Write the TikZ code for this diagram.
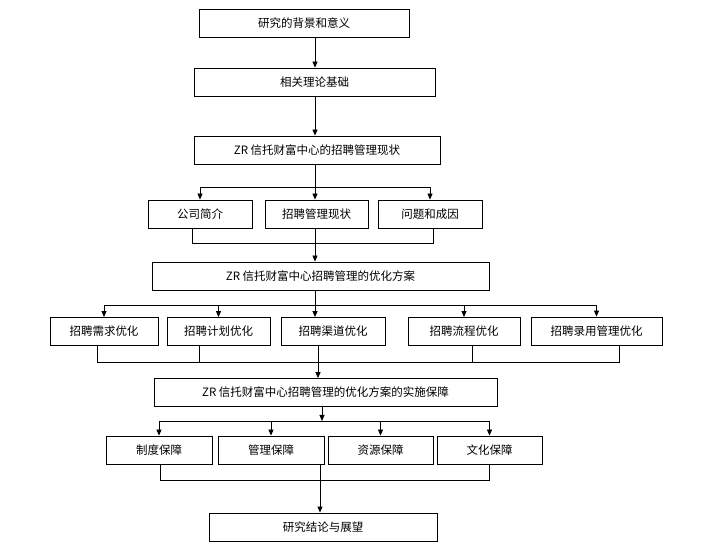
\documentclass[tikz,border=0pt]{standalone}
\usepackage{fontspec}
\usetikzlibrary{arrows.meta}
\newfontfamily\cjk{Noto Sans CJK SC}
\begin{document}
\begin{tikzpicture}[x=1pt,y=-1pt,
 bx/.style={draw,thick,minimum height=28pt,inner sep=0pt,font=\cjk\fontsize{11.5}{13}\selectfont},
 ar/.style={thick,-{Triangle[length=6pt,width=5pt]}},
 ln/.style={thick}]
\useasboundingbox (0,0) rectangle (702,545);
\node[bx,minimum width=210pt] (a) at (304,23) {研究的背景和意义};
\node[bx,minimum width=241pt] (b) at (314.5,82) {相关理论基础};
\node[bx,minimum width=246pt] (c) at (317,150) {ZR 信托财富中心的招聘管理现状};
\node[bx,minimum width=104pt] (c1) at (200,214) {公司简介};
\node[bx,minimum width=103pt] (c2) at (316.5,214) {招聘管理现状};
\node[bx,minimum width=104pt] (c3) at (430,214) {问题和成因};
\node[bx,minimum width=337pt] (d) at (320.5,276) {ZR 信托财富中心招聘管理的优化方案};
\node[bx,minimum width=108pt] (d1) at (104,331.5) {招聘需求优化};
\node[bx,minimum width=103pt] (d2) at (218.5,331.5) {招聘计划优化};
\node[bx,minimum width=104pt] (d3) at (333,331.5) {招聘渠道优化};
\node[bx,minimum width=112pt] (d4) at (464,331.5) {招聘流程优化};
\node[bx,minimum width=131pt] (d5) at (596.5,331) {招聘录用管理优化};
\node[bx,minimum width=343pt] (e) at (325.5,392.5) {ZR 信托财富中心招聘管理的优化方案的实施保障};
\node[bx,minimum width=106pt] (e1) at (159,450) {制度保障};
\node[bx,minimum width=106pt] (e2) at (271,450) {管理保障};
\node[bx,minimum width=105pt] (e3) at (380.5,450) {资源保障};
\node[bx,minimum width=105pt] (e4) at (489.5,450) {文化保障};
\node[bx,minimum width=228pt] (f) at (323,527) {研究结论与展望};
\draw[ar] (a.south -| 315,0) -- (b.north -| 315,0);
\draw[ar] (b.south -| 315,0) -- (c.north -| 315,0);
\coordinate (cy) at (315,187);
\draw[ln] (c.south -| cy) -- (cy);
\draw[ln] (c1.north |- cy) -- (c3.north |- cy);
\draw[ar] (c1.north |- cy) -- (c1.north);
\draw[ar] (cy) -- (c2.north -| cy);
\draw[ar] (c3.north |- cy) -- (c3.north);
\coordinate (cb) at (315,243);
\draw[ln] (192,0 |- c1.south) coordinate (c1b) -- (c1b |- cb) -- (433,243) coordinate (c3b) -- (c3b |- c3.south);
\draw[ar] (c2.south -| cb) -- (d.north -| cb);
\coordinate (dy) at (315,305);
\draw[ln] (d.south -| dy) -- (dy);
\draw[ln] (d1.north |- dy) -- (d5.north |- dy);
\foreach \n in {d1,d2,d4,d5} \draw[ar] (\n.north |- dy) -- (\n.north);
\draw[ar] (dy) -- (d3.north -| dy);
\coordinate (db) at (318,362);
\draw[ln] (97,0 |- d1.south) coordinate (d1b) -- (d1b |- db) -- (619,362) coordinate (d5b) -- (d5b |- d5.south);
\draw[ln] (d2.south -| 199,0) -- (199,362);
\draw[ln] (d4.south -| 472,0) -- (472,362);
\draw[ar] (d3.south -| db) -- (e.north -| db);
\coordinate (ey) at (322,421);
\draw[ar] (e.south -| ey) -- (ey);
\draw[ln] (e1.north |- ey) -- (e4.north |- ey);
\foreach \n in {e1,e2,e3,e4} \draw[ar] (\n.north |- ey) -- (\n.north);
\coordinate (eb) at (320,480);
\draw[ln] (160,0 |- e1.south) coordinate (e1b) -- (e1b |- eb) -- (489,480) coordinate (e4b) -- (e4b |- e4.south);
\draw[ar] (e2.south -| eb) -- (f.north -| eb);
\end{tikzpicture}
\end{document}
